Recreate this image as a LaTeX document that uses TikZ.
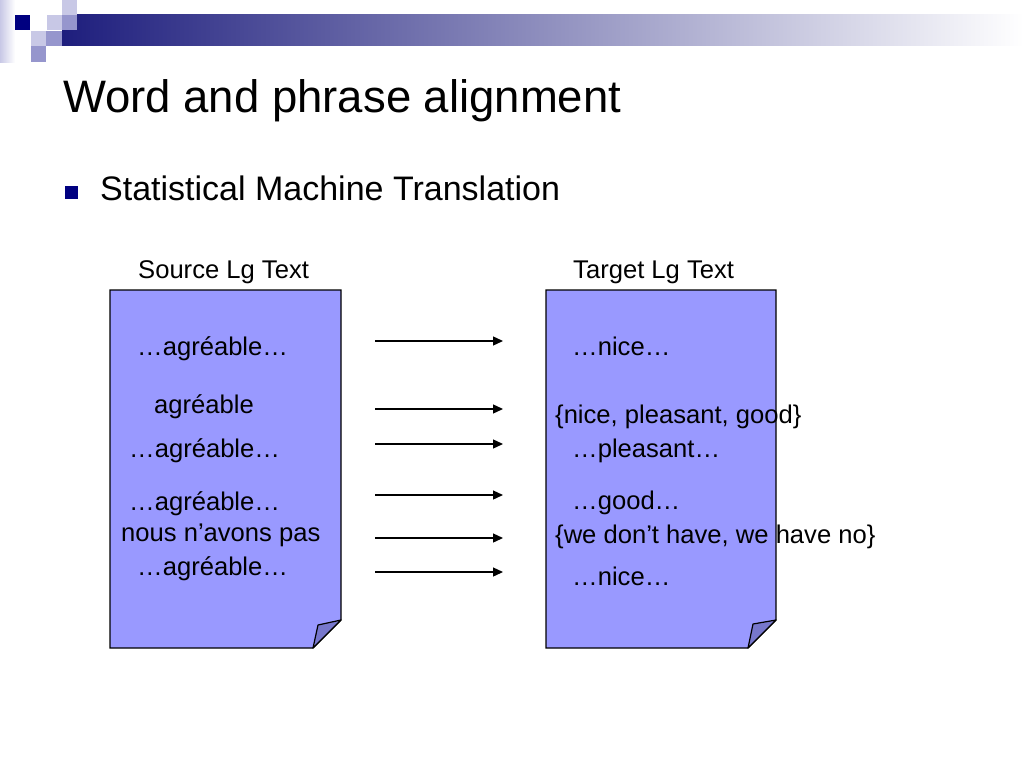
\documentclass[tikz,border=0pt]{standalone}
\usepackage{fontspec}
\setmainfont{Liberation Sans}
\usetikzlibrary{arrows.meta}

\definecolor{navy}{RGB}{0,0,128}
\definecolor{barnavy}{RGB}{30,30,125}
\definecolor{pagefill}{RGB}{153,153,255}
\definecolor{flapfill}{RGB}{119,119,204}
\definecolor{sqlight}{RGB}{200,200,230}
\definecolor{sqmid}{RGB}{150,150,205}

\tikzset{
  word/.style={anchor=base west, inner sep=0pt, font=\fontsize{25.6}{30}\selectfont},
  page/.style={draw=black, fill=pagefill, line width=1.2pt},
  flap/.style={draw=black, fill=flapfill, line width=1.2pt, line join=round},
  alignarrow/.style={-{Triangle[length=10pt,width=9pt]}, line width=1.3pt},
}

\begin{document}
\begin{tikzpicture}[x=1pt, y=1pt]

  \useasboundingbox (0,0) rectangle (1024,-768);

  % header band
  \shade[left color=sqlight, right color=white] (0,0) rectangle (15,-62);
  \shade[left color=barnavy, right color=white] (62,-15) rectangle (1024,-46);
  \fill[navy] (15,-15) rectangle (30,-30);
  \fill[sqlight] (47,-15) rectangle (62,-30);
  \fill[sqlight] (62,0) rectangle (77,-15);
  \fill[sqmid] (62,-15) rectangle (77,-30);
  \fill[sqlight] (31,-31) rectangle (46,-46);
  \fill[sqmid] (46,-31) rectangle (62,-46);
  \fill[sqmid] (31,-46) rectangle (46,-62);

  \node[anchor=base west, inner sep=0pt, font=\fontsize{45.5}{50}\selectfont] (title) at (63,-112) {Word and phrase alignment};
  \node[fill=navy, minimum size=13pt, inner sep=0pt] (bullet) at (71,-192) {};
  \node[anchor=base west, inner sep=0pt, font=\fontsize{34}{40}\selectfont] (smt) at (100,-200) {Statistical Machine Translation};

  \node[word] (srclbl) at (138,-278) {Source Lg Text};
  \node[word] (tgtlbl) at (573,-278) {Target Lg Text};

  % the two pages
  \draw[page] (110,-290) -- (341,-290) -- (341,-620) -- (313,-648) -- (110,-648) -- cycle;
  \draw[flap] (341,-620) -- (318,-625) -- (313,-648) -- cycle;
  \draw[page] (546,-290) -- (776,-290) -- (776,-620) -- (748,-648) -- (546,-648) -- cycle;
  \draw[flap] (776,-620) -- (753,-624) -- (748,-648) -- cycle;

  \node[word] (src1) at (137,-355) {…agréable…};
  \node[word] (src2) at (154,-413) {agréable};
  \node[word] (src3) at (129,-457) {…agréable…};
  \node[word] (src4) at (129,-510) {…agréable…};
  \node[word] (src5) at (121,-541) {nous n’avons pas};
  \node[word] (src6) at (137,-575) {…agréable…};

  \node[word] (tgt1) at (572,-355) {…nice…};
  \node[word] (tgt2) at (555,-423) {\{nice, pleasant, good\}};
  \node[word] (tgt3) at (572,-457) {…pleasant…};
  \node[word] (tgt4) at (572,-509) {…good…};
  \node[word] (tgt5) at (555,-543) {\{we don’t have, we have no\}};
  \node[word] (tgt6) at (572,-585) {…nice…};

  \coordinate (from1) at (375,-341);  \coordinate (to1) at (503,-341);
  \coordinate (from2) at (375,-409);  \coordinate (to2) at (503,-409);
  \coordinate (from3) at (375,-444);  \coordinate (to3) at (503,-444);
  \coordinate (from4) at (375,-495);  \coordinate (to4) at (503,-495);
  \coordinate (from5) at (375,-538);  \coordinate (to5) at (503,-538);
  \coordinate (from6) at (375,-572);  \coordinate (to6) at (503,-572);

  \draw[alignarrow] (from1) -- (to1);
  \draw[alignarrow] (from2) -- (to2);
  \draw[alignarrow] (from3) -- (to3);
  \draw[alignarrow] (from4) -- (to4);
  \draw[alignarrow] (from5) -- (to5);
  \draw[alignarrow] (from6) -- (to6);

\end{tikzpicture}
\end{document}
